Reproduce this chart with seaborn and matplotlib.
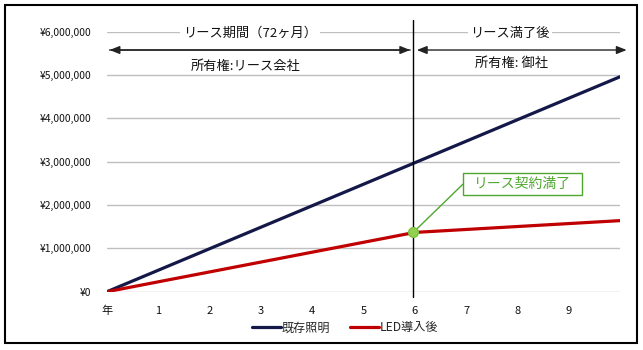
import matplotlib
matplotlib.use("Agg")
import matplotlib.pyplot as plt
import matplotlib.patches as mpatches
import matplotlib.ticker as mticker
import seaborn as sns
import pandas as pd

# ---- data ----
years = [0, 1, 2, 3, 4, 5, 6, 7, 8, 9, 10]
tick_labels = ["年", "1", "2", "3", "4", "5", "6", "7", "8", "9"]
existing = [0, 496000, 992000, 1488000, 1984000, 2480000, 2976000, 3472000, 3968000, 4464000, 4960000]
led = [0, 228000, 456000, 684000, 912000, 1140000, 1368000, 1436000, 1504000, 1572000, 1640000]
series_names = ["既存照明", "LED導入後"]
lease_end_year = 6
lease_end_value = 1368000
yticks = [0, 1000000, 2000000, 3000000, 4000000, 5000000, 6000000]

sns.set_theme(style="white")
plt.rcParams["font.family"] = ["Noto Sans CJK JP", "DejaVu Sans"]

df = pd.DataFrame({
    "year": years * 2,
    "value": existing + led,
    "series": [series_names[0]] * len(years) + [series_names[1]] * len(years),
})

W, H = 643, 350
fig = plt.figure(figsize=(W / 100, H / 100), dpi=100)
fig.patch.set_facecolor("white")
ax = fig.add_axes([107 / W, 1 - 291.7 / H, (620 - 107) / W, 260 / H])

sns.lineplot(data=df, x="year", y="value", hue="series",
             palette={series_names[0]: "#141848", series_names[1]: "#C00000"},
             linewidth=2.3, ax=ax, legend=True)

ax.set_xlim(0, 10)
ax.set_ylim(0, 6000000)
ax.set_xticks(range(len(tick_labels)))
ax.set_xticklabels(tick_labels, fontsize=8, color="#111111")
ax.set_yticks(yticks)
ax.yaxis.set_major_formatter(mticker.FuncFormatter(lambda v, p: f"¥{v:,.0f}"))
ax.tick_params(axis="y", labelsize=7.4, pad=11, length=0, colors="#111111")
ax.tick_params(axis="x", pad=10, length=0)
ax.set_xlabel("")
ax.set_ylabel("")
ax.grid(axis="y", color="#BFBFBF", linewidth=1.0)
ax.set_axisbelow(True)
for s in ax.spines.values():
    s.set_visible(False)

def fy(py):
    return 6000000 - (py - 31.7) / 43.3 * 1e6

def fx(px):
    return (px - 107) / 51.3

# vertical lease-end line
ax.axvline(lease_end_year - 0.03, ymin=-0.022, ymax=1.045, color="black",
           linewidth=1.0, clip_on=False, zorder=3)

# arrows
yarr = fy(50)
head = "-|>,head_length=0.5,head_width=0.2"
ax.annotate("", xy=(0.05, yarr), xytext=(lease_end_year - 0.09, yarr),
            arrowprops=dict(arrowstyle=head, color="#222222", lw=1.0, shrinkA=0, shrinkB=0),
            annotation_clip=False)
ax.annotate("", xy=(lease_end_year - 0.09, yarr), xytext=(0.05, yarr),
            arrowprops=dict(arrowstyle=head, color="#222222", lw=1.0, shrinkA=0, shrinkB=0),
            annotation_clip=False)
ax.annotate("", xy=(10.13, yarr), xytext=(lease_end_year + 0.04, yarr),
            arrowprops=dict(arrowstyle="<|-|>,head_length=0.5,head_width=0.2", color="#222222",
                            lw=1.0, shrinkA=0, shrinkB=0), annotation_clip=False)

ax.text(fx(250), fy(33), "リース期間（72ヶ月）", ha="center", va="center", fontsize=9.5,
        color="#111111", bbox=dict(boxstyle="square,pad=0.2", fc="white", ec="none"), zorder=4)
ax.text(fx(246), fy(66), "所有権:リース会社", ha="center", va="center", fontsize=9.5, color="#111111", zorder=4)
ax.text(fx(510), fy(33), "リース満了後", ha="center", va="center", fontsize=9.5,
        color="#111111", bbox=dict(boxstyle="square,pad=0.2", fc="white", ec="none"), zorder=4)
ax.text(fx(511), fy(63), "所有権: 御社", ha="center", va="center", fontsize=9.5, color="#111111", zorder=4)

# lease end marker + callout
green = "#4EA72E"
ax.plot([lease_end_year - 0.03, fx(463)], [lease_end_value, fy(184)], color=green, lw=1.0, zorder=5)
ax.plot([lease_end_year - 0.03], [lease_end_value], marker="o", markersize=7,
        markerfacecolor="#92D050", markeredgecolor="#7CBF3A", zorder=6)
ax.add_patch(mpatches.Rectangle((fx(463), fy(195)), fx(582) - fx(463), fy(173) - fy(195),
                                fc="white", ec=green, lw=1.0, zorder=6))
ax.text(fx(522.5), fy(184), "リース契約満了", ha="center", va="center", fontsize=10,
        color=green, zorder=7)

# legend
leg = ax.legend_
handles = leg.legend_handles
labels = [t.get_text() for t in leg.get_texts()]
leg.remove()
fig.legend(handles, labels, loc="center", bbox_to_anchor=(345 / W, 1 - 328 / H), ncol=2,
           frameon=False, fontsize=8.7, handlelength=2.4, handletextpad=0.1, columnspacing=1.6)

# outer frame
fig.add_artist(mpatches.Rectangle((4.5 / W, 1 - 343 / H), (637 - 4.5) / W, (343 - 5) / H,
                                  transform=fig.transFigure, fill=False, ec="black", lw=1.5))

fig.savefig("out.png", dpi=100)
